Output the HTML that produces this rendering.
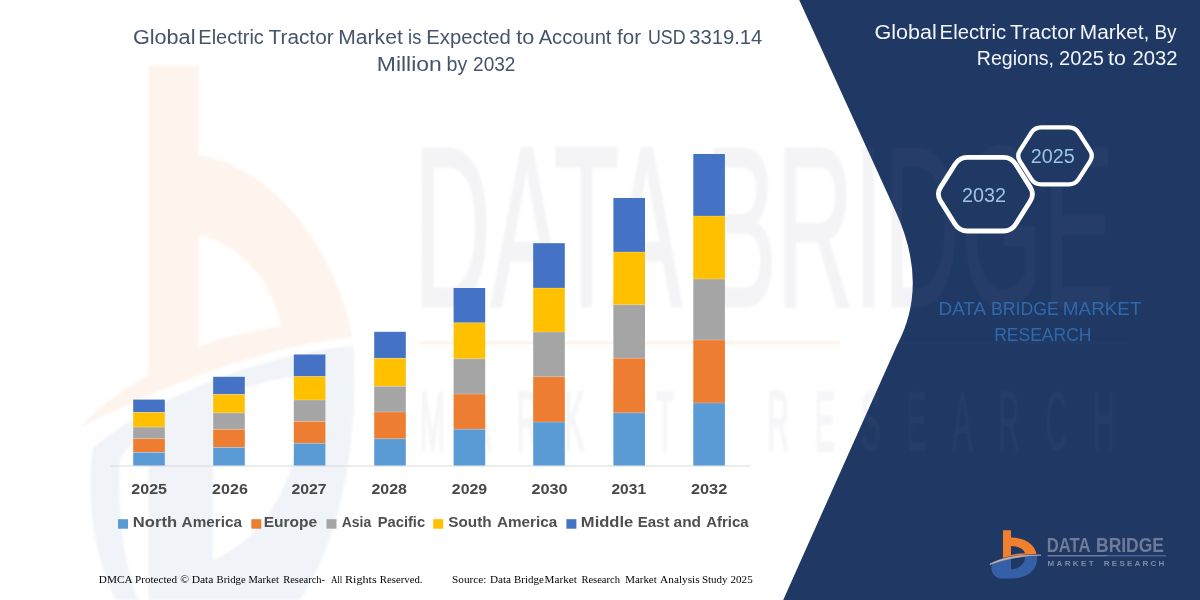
<!DOCTYPE html>
<html><head><meta charset="utf-8">
<style>
html,body{margin:0;padding:0;background:#fff;}
body{width:1200px;height:600px;overflow:hidden;font-family:"Liberation Sans",sans-serif;}
svg{display:block;}
text{font-family:"Liberation Sans",sans-serif;}
.serif{font-family:"Liberation Serif",serif;}
</style></head><body>
<svg width="1200" height="600" viewBox="0 0 1200 600">
<defs>
<clipPath id="navyclip"><path d="M799.2,0 L895,210 Q929.5,284 897.1,345 L783.2,600 L1200,600 L1200,0 Z"/></clipPath>
<filter id="b2" color-interpolation-filters="sRGB" x="-10%" y="-10%" width="120%" height="120%"><feGaussianBlur stdDeviation="0.25 0.12"/></filter>
<filter id="b1" color-interpolation-filters="sRGB" x="-10%" y="-10%" width="120%" height="120%"><feGaussianBlur stdDeviation="1.2"/></filter>
<filter id="soft" color-interpolation-filters="sRGB" filterUnits="userSpaceOnUse" x="0" y="0" width="1200" height="600"><feGaussianBlur stdDeviation="0.45" edgeMode="duplicate"/></filter>
</defs>
<g filter="url(#soft)">
<rect width="1200" height="600" fill="#ffffff"/>

<!-- WATERMARK (on white) -->
<g id="wm" opacity="1">
  <g filter="url(#b1)">
    <!-- blue lower part -->
    <path d="M353,346 C262,354 152,398 93,448 C85,500 95,560 116,600 L300,600 C340,540 360,440 353,346 Z M213,399 C245,386 275,379 303,374 C306,450 282,530 213,560 Z M120,458 C128,447 138,439 148.5,432 L148.5,600 L138,600 C122,560 117,500 120,458 Z" fill="#f0f3f8" fill-rule="evenodd"/>
    <!-- orange b upper part + swoosh -->
    <path d="M148.5,66 L199,66 L199,155 C250,162 325,215 353,337 C262,346 150,392 80,428 C100,405 125,388 148.5,375 Z M199,235 C240,245 272,280 281,326 C250,331 222,338 199,346 Z" fill="#fef4ee" fill-rule="evenodd"/>
  </g>
  <g filter="url(#b1)">
  <text x="414" y="306" font-size="229" fill="#f4f4f6" stroke="#f4f4f6" stroke-width="3" textLength="700" lengthAdjust="spacingAndGlyphs">DATA BRIDGE</text>
  <rect x="420" y="341.5" width="420" height="2.5" fill="#fdeee6"/>
  <text transform="translate(420,450) scale(0.36,1)" font-size="84" fill="#f6f6f8" stroke="#f6f6f8" stroke-width="3" textLength="1930" lengthAdjust="spacing" xml:space="preserve">MARKET  RESEARCH</text>
  </g>
</g>

<!-- NAVY PANEL -->
<path d="M799.2,0 L895,210 Q929.5,284 897.1,345 L783.2,600 L1200,600 L1200,0 Z" fill="#1f3864"/>
<g clip-path="url(#navyclip)" opacity="0.028">
  <g filter="url(#b1)">
  <text x="414" y="306" font-size="229" fill="#ffffff" stroke="#ffffff" stroke-width="3" textLength="700" lengthAdjust="spacingAndGlyphs">DATA BRIDGE</text>
  <rect x="420" y="341.5" width="710" height="2.5" fill="#ffffff"/>
  <text transform="translate(420,450) scale(0.36,1)" font-size="84" fill="#ffffff" stroke="#ffffff" stroke-width="2" textLength="1930" lengthAdjust="spacing" xml:space="preserve">MARKET  RESEARCH</text>
  </g>
</g>

<!-- AXIS -->
<rect x="110" y="465.5" width="640" height="1" fill="#d9d9d9"/>

<!-- BARS -->
<g id="bars">
<rect x="133.2" y="399.6" width="31.6" height="12.8" fill="#4472c4"/>
<rect x="133.2" y="412.4" width="31.6" height="14.7" fill="#ffc000"/>
<rect x="133.2" y="427.1" width="31.6" height="11.6" fill="#a5a5a5"/>
<rect x="133.2" y="438.7" width="31.6" height="13.7" fill="#ed7d31"/>
<rect x="133.2" y="452.4" width="31.6" height="13.1" fill="#5b9bd5"/>
<rect x="213.2" y="376.8" width="31.6" height="17.6" fill="#4472c4"/>
<rect x="213.2" y="394.4" width="31.6" height="18.5" fill="#ffc000"/>
<rect x="213.2" y="412.9" width="31.6" height="16.4" fill="#a5a5a5"/>
<rect x="213.2" y="429.3" width="31.6" height="18.1" fill="#ed7d31"/>
<rect x="213.2" y="447.4" width="31.6" height="18.1" fill="#5b9bd5"/>
<rect x="293.8" y="354.5" width="31.6" height="22.0" fill="#4472c4"/>
<rect x="293.8" y="376.5" width="31.6" height="23.5" fill="#ffc000"/>
<rect x="293.8" y="400.0" width="31.6" height="21.4" fill="#a5a5a5"/>
<rect x="293.8" y="421.4" width="31.6" height="21.9" fill="#ed7d31"/>
<rect x="293.8" y="443.3" width="31.6" height="22.2" fill="#5b9bd5"/>
<rect x="374.2" y="331.8" width="31.6" height="26.5" fill="#4472c4"/>
<rect x="374.2" y="358.3" width="31.6" height="28.0" fill="#ffc000"/>
<rect x="374.2" y="386.3" width="31.6" height="25.7" fill="#a5a5a5"/>
<rect x="374.2" y="412.0" width="31.6" height="26.8" fill="#ed7d31"/>
<rect x="374.2" y="438.8" width="31.6" height="26.7" fill="#5b9bd5"/>
<rect x="453.6" y="288.0" width="31.6" height="34.8" fill="#4472c4"/>
<rect x="453.6" y="322.8" width="31.6" height="36.0" fill="#ffc000"/>
<rect x="453.6" y="358.8" width="31.6" height="35.2" fill="#a5a5a5"/>
<rect x="453.6" y="394.0" width="31.6" height="35.2" fill="#ed7d31"/>
<rect x="453.6" y="429.2" width="31.6" height="36.3" fill="#5b9bd5"/>
<rect x="533.2" y="243.2" width="31.6" height="44.8" fill="#4472c4"/>
<rect x="533.2" y="288.0" width="31.6" height="44.0" fill="#ffc000"/>
<rect x="533.2" y="332.0" width="31.6" height="44.8" fill="#a5a5a5"/>
<rect x="533.2" y="376.8" width="31.6" height="45.2" fill="#ed7d31"/>
<rect x="533.2" y="422.0" width="31.6" height="43.5" fill="#5b9bd5"/>
<rect x="613.4" y="198.0" width="31.6" height="54.0" fill="#4472c4"/>
<rect x="613.4" y="252.0" width="31.6" height="52.8" fill="#ffc000"/>
<rect x="613.4" y="304.8" width="31.6" height="53.4" fill="#a5a5a5"/>
<rect x="613.4" y="358.2" width="31.6" height="54.7" fill="#ed7d31"/>
<rect x="613.4" y="412.9" width="31.6" height="52.6" fill="#5b9bd5"/>
<rect x="693.3" y="154.0" width="31.6" height="62.0" fill="#4472c4"/>
<rect x="693.3" y="216.0" width="31.6" height="63.0" fill="#ffc000"/>
<rect x="693.3" y="279.0" width="31.6" height="61.0" fill="#a5a5a5"/>
<rect x="693.3" y="340.0" width="31.6" height="63.0" fill="#ed7d31"/>
<rect x="693.3" y="403.0" width="31.6" height="62.5" fill="#5b9bd5"/>
<rect x="133.2" y="412.0" width="31.6" height="0.8" fill="#ffffff" opacity="0.3"/>
<rect x="133.2" y="426.7" width="31.6" height="0.8" fill="#ffffff" opacity="0.3"/>
<rect x="133.2" y="438.3" width="31.6" height="0.8" fill="#ffffff" opacity="0.3"/>
<rect x="133.2" y="452.0" width="31.6" height="0.8" fill="#ffffff" opacity="0.3"/>
<rect x="213.2" y="394.0" width="31.6" height="0.8" fill="#ffffff" opacity="0.3"/>
<rect x="213.2" y="412.5" width="31.6" height="0.8" fill="#ffffff" opacity="0.3"/>
<rect x="213.2" y="428.9" width="31.6" height="0.8" fill="#ffffff" opacity="0.3"/>
<rect x="213.2" y="447.0" width="31.6" height="0.8" fill="#ffffff" opacity="0.3"/>
<rect x="293.8" y="376.1" width="31.6" height="0.8" fill="#ffffff" opacity="0.3"/>
<rect x="293.8" y="399.6" width="31.6" height="0.8" fill="#ffffff" opacity="0.3"/>
<rect x="293.8" y="421.0" width="31.6" height="0.8" fill="#ffffff" opacity="0.3"/>
<rect x="293.8" y="442.9" width="31.6" height="0.8" fill="#ffffff" opacity="0.3"/>
<rect x="374.2" y="357.9" width="31.6" height="0.8" fill="#ffffff" opacity="0.3"/>
<rect x="374.2" y="385.9" width="31.6" height="0.8" fill="#ffffff" opacity="0.3"/>
<rect x="374.2" y="411.6" width="31.6" height="0.8" fill="#ffffff" opacity="0.3"/>
<rect x="374.2" y="438.4" width="31.6" height="0.8" fill="#ffffff" opacity="0.3"/>
<rect x="453.6" y="322.4" width="31.6" height="0.8" fill="#ffffff" opacity="0.3"/>
<rect x="453.6" y="358.4" width="31.6" height="0.8" fill="#ffffff" opacity="0.3"/>
<rect x="453.6" y="393.6" width="31.6" height="0.8" fill="#ffffff" opacity="0.3"/>
<rect x="453.6" y="428.8" width="31.6" height="0.8" fill="#ffffff" opacity="0.3"/>
<rect x="533.2" y="287.6" width="31.6" height="0.8" fill="#ffffff" opacity="0.3"/>
<rect x="533.2" y="331.6" width="31.6" height="0.8" fill="#ffffff" opacity="0.3"/>
<rect x="533.2" y="376.4" width="31.6" height="0.8" fill="#ffffff" opacity="0.3"/>
<rect x="533.2" y="421.6" width="31.6" height="0.8" fill="#ffffff" opacity="0.3"/>
<rect x="613.4" y="251.6" width="31.6" height="0.8" fill="#ffffff" opacity="0.3"/>
<rect x="613.4" y="304.4" width="31.6" height="0.8" fill="#ffffff" opacity="0.3"/>
<rect x="613.4" y="357.8" width="31.6" height="0.8" fill="#ffffff" opacity="0.3"/>
<rect x="613.4" y="412.5" width="31.6" height="0.8" fill="#ffffff" opacity="0.3"/>
<rect x="693.3" y="215.6" width="31.6" height="0.8" fill="#ffffff" opacity="0.3"/>
<rect x="693.3" y="278.6" width="31.6" height="0.8" fill="#ffffff" opacity="0.3"/>
<rect x="693.3" y="339.6" width="31.6" height="0.8" fill="#ffffff" opacity="0.3"/>
<rect x="693.3" y="402.6" width="31.6" height="0.8" fill="#ffffff" opacity="0.3"/>
</g>


<!-- LEGEND -->
<g font-size="14" font-weight="bold" fill="#454545">
  <rect x="118" y="519.2" width="10" height="9.5" fill="#5b9bd5"/>
  <rect x="251.3" y="519.2" width="10" height="9.5" fill="#ed7d31"/>
  <rect x="326.5" y="519.2" width="10" height="9.5" fill="#a5a5a5"/>
  <rect x="433.2" y="519.2" width="10" height="9.5" fill="#ffc000"/>
  <rect x="566.4" y="519.2" width="10" height="9.5" fill="#4472c4"/>
</g>



<!-- HEXAGONS -->
<g fill="#1f3864" stroke="#ffffff" stroke-linejoin="round">
  <path d="M940.5,201.0 Q936.2,194.2 940.5,187.4 L955.1,164.2 Q959.4,157.4 967.4,157.4 L1003.4,157.4 Q1011.4,157.4 1015.7,164.2 L1030.3,187.4 Q1034.6,194.2 1030.3,201.0 L1015.7,224.2 Q1011.4,231.0 1003.4,231.0 L967.4,231.0 Q959.4,231.0 955.1,224.2 Z" stroke-width="4.8"/>
  <path d="M1020.0,161.3 Q1016.5,155.8 1020.0,150.4 L1031.2,132.8 Q1034.7,127.3 1041.2,127.3 L1068.8,127.3 Q1075.3,127.3 1078.8,132.8 L1090.0,150.4 Q1093.5,155.8 1090.0,161.3 L1078.8,178.9 Q1075.3,184.4 1068.8,184.4 L1041.2,184.4 Q1034.7,184.4 1031.2,178.9 Z" stroke-width="4.3"/>
</g>
<g font-size="20" fill="#9dc3e6">
  <text x="962" y="201.5" textLength="44" lengthAdjust="spacingAndGlyphs">2032</text>
  <text x="1030.8" y="163.2" textLength="44" lengthAdjust="spacingAndGlyphs">2025</text>
</g>


<!-- LOGO -->
<g id="logo">
  <!-- blue lower -->
  <path d="M992,564 C1002,559 1022,556 1037,556 C1038,566 1032,578 1012,578.5 L1000,578.5 C993,577 990,570 992,564 Z" fill="#3560a8"/>
  <path d="M1011,558.5 C1016,557.5 1021,557 1025,557 C1025,563 1020,569 1011,569.5 Z" fill="#1f3864"/>
  <!-- orange b -->
  <path d="M1003,530.3 L1011,530.3 L1011,537.5 C1024,537.5 1035,544 1036.5,554 C1028,554 1014,555 1003,558 Z" fill="#f07f2e"/>
  <path d="M1011,546 C1018,546 1024,549 1025,553.3 C1020,553.5 1015,554 1011,555 Z" fill="#1f3864"/>
  <!-- swoosh -->
  <path d="M990,564 C1003,557 1022,554 1041,555.2 C1022,555.6 1004,559 990,564.6 Z" fill="#c9b6ae" stroke="#c9b6ae" stroke-width="0.6"/>
<g font-size="20.5" font-weight="bold" fill="#6f7b97">
<text x="1046.74" y="552.3" textLength="43.87" lengthAdjust="spacingAndGlyphs">DATA</text>
<text x="1096.03" y="552.3" textLength="67.95" lengthAdjust="spacingAndGlyphs">BRIDGE</text>
</g>
  <rect x="1047.6" y="555.3" width="60" height="1" fill="#9a9bb3"/>
  <rect x="1107.6" y="555.3" width="58.4" height="1" fill="#5a78aa"/>
  <text x="1047.4" y="566" font-size="8" font-weight="bold" fill="#7f8ba6" textLength="46.3" lengthAdjust="spacing">MARKET</text>
  <text x="1103.8" y="566" font-size="8" font-weight="bold" fill="#7f8ba6" textLength="60.6" lengthAdjust="spacing">RESEARCH</text>
</g>

<!-- TEXTBLOCK START -->
<g font-size="19.5" fill="#44546a">
<text x="132.91" y="44.3" textLength="62.54" lengthAdjust="spacingAndGlyphs">Global</text>
<text x="198.36" y="44.3" textLength="65.46" lengthAdjust="spacingAndGlyphs">Electric</text>
<text x="268.54" y="44.3" textLength="65.10" lengthAdjust="spacingAndGlyphs">Tractor</text>
<text x="338.27" y="44.3" textLength="64.49" lengthAdjust="spacingAndGlyphs">Market</text>
<text x="408.08" y="44.3" textLength="13.18" lengthAdjust="spacingAndGlyphs">is</text>
<text x="426.34" y="44.3" textLength="84.47" lengthAdjust="spacingAndGlyphs">Expected</text>
<text x="516.37" y="44.3" textLength="18.04" lengthAdjust="spacingAndGlyphs">to</text>
<text x="538.66" y="44.3" textLength="72.79" lengthAdjust="spacingAndGlyphs">Account</text>
<text x="617.01" y="44.3" textLength="24.03" lengthAdjust="spacingAndGlyphs">for</text>
<text x="647.93" y="44.3" textLength="37.63" lengthAdjust="spacingAndGlyphs">USD</text>
<text x="689.23" y="44.3" textLength="73.16" lengthAdjust="spacingAndGlyphs">3319.14</text>
<text x="376.87" y="71" textLength="64.86" lengthAdjust="spacingAndGlyphs">Million</text>
<text x="446.48" y="71" textLength="20.81" lengthAdjust="spacingAndGlyphs">by</text>
<text x="473.04" y="71" textLength="42.42" lengthAdjust="spacingAndGlyphs">2032</text>
</g>
<g font-size="19.6" fill="#f2f5fa">
<text x="874.42" y="39.1" textLength="62.33" lengthAdjust="spacingAndGlyphs">Global</text>
<text x="939.64" y="39.1" textLength="66.40" lengthAdjust="spacingAndGlyphs">Electric</text>
<text x="1010.03" y="39.1" textLength="65.81" lengthAdjust="spacingAndGlyphs">Tractor</text>
<text x="1079.79" y="39.1" textLength="69.59" lengthAdjust="spacingAndGlyphs">Market,</text>
<text x="1154.45" y="39.1" textLength="22.09" lengthAdjust="spacingAndGlyphs">By</text>
<text x="976.79" y="65.4" textLength="77.26" lengthAdjust="spacingAndGlyphs">Regions,</text>
<text x="1059.09" y="65.4" textLength="44.76" lengthAdjust="spacingAndGlyphs">2025</text>
<text x="1107.98" y="65.4" textLength="17.82" lengthAdjust="spacingAndGlyphs">to</text>
<text x="1132.58" y="65.4" textLength="45.04" lengthAdjust="spacingAndGlyphs">2032</text>
</g>
<g font-size="18.5" fill="#3069ab">
<text x="938.54" y="314.6" textLength="47.50" lengthAdjust="spacingAndGlyphs">DATA</text>
<text x="990.95" y="314.6" textLength="67.81" lengthAdjust="spacingAndGlyphs">BRIDGE</text>
<text x="1062.85" y="314.6" textLength="78.58" lengthAdjust="spacingAndGlyphs">MARKET</text>
<text x="994.16" y="341.4" textLength="97.26" lengthAdjust="spacingAndGlyphs">RESEARCH</text>
</g>
<g font-size="14" font-weight="bold" fill="#4f4f4f">
<text x="132.89" y="527.2" textLength="44.13" lengthAdjust="spacingAndGlyphs">North</text>
<text x="181.62" y="527.2" textLength="60.28" lengthAdjust="spacingAndGlyphs">America</text>
<text x="263.66" y="527.2" textLength="53.57" lengthAdjust="spacingAndGlyphs">Europe</text>
<text x="341.65" y="527.2" textLength="29.56" lengthAdjust="spacingAndGlyphs">Asia</text>
<text x="377.72" y="527.2" textLength="47.41" lengthAdjust="spacingAndGlyphs">Pacific</text>
<text x="448.26" y="527.2" textLength="43.39" lengthAdjust="spacingAndGlyphs">South</text>
<text x="496.92" y="527.2" textLength="60.28" lengthAdjust="spacingAndGlyphs">America</text>
<text x="580.89" y="527.2" textLength="52.37" lengthAdjust="spacingAndGlyphs">Middle</text>
<text x="637.69" y="527.2" textLength="31.79" lengthAdjust="spacingAndGlyphs">East</text>
<text x="673.55" y="527.2" textLength="27.47" lengthAdjust="spacingAndGlyphs">and</text>
<text x="706.33" y="527.2" textLength="42.28" lengthAdjust="spacingAndGlyphs">Africa</text>
</g>
<g font-size="15" font-weight="bold" fill="#484848">
<text x="131.35" y="494.3" textLength="35.60" lengthAdjust="spacingAndGlyphs">2025</text>
<text x="212.14" y="494.3" textLength="35.74" lengthAdjust="spacingAndGlyphs">2026</text>
<text x="291.45" y="494.3" textLength="35.25" lengthAdjust="spacingAndGlyphs">2027</text>
<text x="371.45" y="494.3" textLength="35.55" lengthAdjust="spacingAndGlyphs">2028</text>
<text x="451.85" y="494.3" textLength="35.34" lengthAdjust="spacingAndGlyphs">2029</text>
<text x="531.44" y="494.3" textLength="36.23" lengthAdjust="spacingAndGlyphs">2030</text>
<text x="611.46" y="494.3" textLength="34.57" lengthAdjust="spacingAndGlyphs">2031</text>
<text x="690.93" y="494.3" textLength="36.32" lengthAdjust="spacingAndGlyphs">2032</text>
</g>
<g class="serif" font-size="10.5" fill="#000" style="font-family:'Liberation Serif',serif">
<text class="serif" x="98.88" y="582.5" textLength="33.71" lengthAdjust="spacingAndGlyphs">DMCA</text>
<text class="serif" x="135.08" y="582.5" textLength="41.96" lengthAdjust="spacingAndGlyphs">Protected</text>
<text class="serif" x="180.20" y="582.5" textLength="8.78" lengthAdjust="spacingAndGlyphs">©</text>
<text class="serif" x="191.67" y="582.5" textLength="21.79" lengthAdjust="spacingAndGlyphs">Data</text>
<text class="serif" x="216.49" y="582.5" textLength="29.18" lengthAdjust="spacingAndGlyphs">Bridge</text>
<text class="serif" x="248.40" y="582.5" textLength="30.47" lengthAdjust="spacingAndGlyphs">Market</text>
<text class="serif" x="283.20" y="582.5" textLength="41.88" lengthAdjust="spacingAndGlyphs">Research-</text>
<text class="serif" x="330.91" y="582.5" textLength="11.36" lengthAdjust="spacingAndGlyphs">All</text>
<text class="serif" x="344.95" y="582.5" textLength="31.69" lengthAdjust="spacingAndGlyphs">Rights</text>
<text class="serif" x="379.79" y="582.5" textLength="42.72" lengthAdjust="spacingAndGlyphs">Reserved.</text>
<text class="serif" x="452.05" y="582.5" textLength="34.26" lengthAdjust="spacingAndGlyphs">Source:</text>
<text class="serif" x="489.98" y="582.5" textLength="21.07" lengthAdjust="spacingAndGlyphs">Data</text>
<text class="serif" x="514.09" y="582.5" textLength="29.69" lengthAdjust="spacingAndGlyphs">Bridge</text>
<text class="serif" x="544.58" y="582.5" textLength="32.19" lengthAdjust="spacingAndGlyphs">Market</text>
<text class="serif" x="581.40" y="582.5" textLength="38.54" lengthAdjust="spacingAndGlyphs">Research</text>
<text class="serif" x="625.18" y="582.5" textLength="31.58" lengthAdjust="spacingAndGlyphs">Market</text>
<text class="serif" x="660.09" y="582.5" textLength="39.52" lengthAdjust="spacingAndGlyphs">Analysis</text>
<text class="serif" x="701.97" y="582.5" textLength="25.58" lengthAdjust="spacingAndGlyphs">Study</text>
<text class="serif" x="730.51" y="582.5" textLength="22.22" lengthAdjust="spacingAndGlyphs">2025</text>
</g>
<!-- TEXTBLOCK END -->
</g>
</svg>
</body></html>
